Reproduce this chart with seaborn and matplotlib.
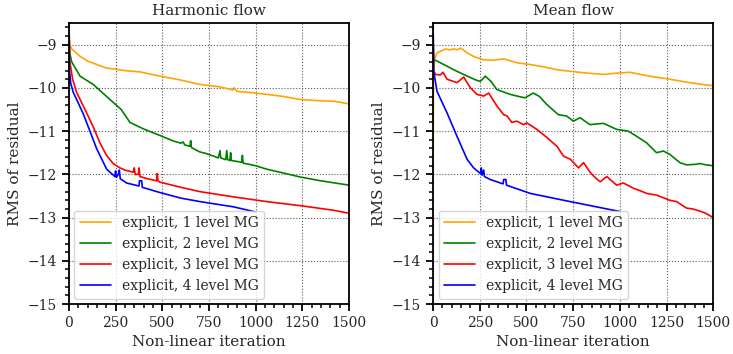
import matplotlib
matplotlib.use("Agg")
import matplotlib.pyplot as plt
from matplotlib.ticker import MultipleLocator
import seaborn as sns
import pandas as pd

# ------------------------------------------------------------
# Data
# ------------------------------------------------------------

LABELS = ["explicit, 1 level MG", "explicit, 2 level MG",
          "explicit, 3 level MG", "explicit, 4 level MG"]
COLORS = ["orange", "green", "red", "blue"]

# Harmonic flow
harm_1_x = [0, 5, 15, 60, 100, 200, 300, 380, 490, 600, 700, 800, 880, 884, 900,
            1000, 1060, 1150, 1240, 1350, 1420, 1500]
harm_1_y = [-8.65, -9.0, -9.1, -9.27, -9.38, -9.54, -9.6, -9.63, -9.73, -9.82, -9.92,
            -9.97, -10.05, -10.0, -10.08, -10.12, -10.15, -10.2, -10.27, -10.3, -10.31, -10.37]

harm_2_x = [0, 5, 15, 60, 130, 220, 280, 327, 400, 487, 560, 600, 612, 620, 648, 652,
            656, 700, 737, 800, 809, 813, 840, 845, 850, 862, 866, 870, 925, 929, 933,
            1000, 1059, 1150, 1237, 1350, 1500]
harm_2_y = [-8.65, -9.2, -9.4, -9.73, -9.92, -10.27, -10.5, -10.8, -10.95, -11.1, -11.23,
            -11.28, -11.25, -11.32, -11.35, -11.22, -11.38, -11.48, -11.52, -11.62, -11.45,
            -11.62, -11.66, -11.45, -11.66, -11.68, -11.5, -11.68, -11.72, -11.56, -11.74,
            -11.8, -11.88, -11.97, -12.06, -12.15, -12.25]

harm_3_x = [0, 5, 20, 41, 95, 130, 166, 200, 237, 273, 300, 345, 350, 355, 372, 376,
            380, 420, 470, 473, 477, 487, 600, 702, 880, 1059, 1250, 1416, 1500]
harm_3_y = [-8.65, -9.4, -9.8, -10.1, -10.58, -10.9, -11.27, -11.55, -11.75, -11.85, -11.9,
            -11.95, -11.85, -12.0, -12.0, -11.85, -12.05, -12.1, -12.15, -11.98, -12.15,
            -12.18, -12.3, -12.4, -12.52, -12.63, -12.73, -12.83, -12.9]

harm_4_x = [0, 3, 10, 23, 77, 148, 202, 246, 250, 254, 265, 270, 275, 309, 375, 378,
            390, 393, 487, 600, 702, 880, 1000]
harm_4_y = [-8.6, -9.6, -9.9, -10.1, -10.6, -11.4, -11.88, -12.05, -11.92, -12.07, -12.0,
            -11.9, -12.1, -12.2, -12.27, -12.15, -12.15, -12.3, -12.42, -12.55, -12.63,
            -12.75, -12.87]

# Mean flow
mean_1_x = [0, 2, 8, 21, 66, 90, 110, 128, 150, 182, 220, 271, 320, 378, 450, 520, 600,
            663, 740, 805, 912, 980, 1055, 1100, 1161, 1268, 1320, 1375, 1440, 1500]
mean_1_y = [-12.4, -9.6, -9.35, -9.19, -9.1, -9.12, -9.1, -9.12, -9.08, -9.19, -9.28,
            -9.35, -9.36, -9.33, -9.42, -9.46, -9.52, -9.58, -9.62, -9.65, -9.69, -9.66,
            -9.64, -9.68, -9.73, -9.8, -9.84, -9.88, -9.92, -9.95]

mean_2_x = [0, 3, 21, 75, 110, 164, 230, 253, 280, 310, 342, 413, 460, 492, 537, 570,
            608, 671, 715, 751, 787, 840, 912, 983, 1045, 1090, 1143, 1197, 1233, 1268,
            1322, 1357, 1400, 1429, 1460, 1500]
mean_2_y = [-8.6, -9.35, -9.38, -9.5, -9.58, -9.69, -9.82, -9.85, -9.73, -9.85, -10.04,
            -10.15, -10.2, -10.23, -10.12, -10.2, -10.38, -10.62, -10.65, -10.77, -10.69,
            -10.85, -10.82, -10.96, -11.0, -11.12, -11.27, -11.5, -11.46, -11.54, -11.73,
            -11.78, -11.77, -11.75, -11.78, -11.8]

mean_3_x = [0, 3, 12, 39, 53, 75, 128, 164, 200, 235, 271, 298, 342, 378, 396, 422, 449,
            484, 502, 556, 610, 663, 699, 735, 779, 806, 842, 877, 895, 930, 983, 1019,
            1072, 1110, 1143, 1197, 1268, 1304, 1357, 1390, 1429, 1460, 1500]
mean_3_y = [-8.6, -9.6, -9.69, -9.7, -9.64, -9.8, -9.88, -9.75, -10.0, -10.15, -10.19,
            -10.12, -10.42, -10.62, -10.65, -10.8, -10.77, -10.85, -10.81, -10.96, -11.15,
            -11.35, -11.58, -11.65, -11.85, -11.73, -11.96, -12.11, -12.17, -12.05, -12.25,
            -12.2, -12.32, -12.38, -12.44, -12.48, -12.6, -12.63, -12.78, -12.8, -12.85,
            -12.9, -13.0]

mean_4_x = [0, 3, 21, 75, 128, 182, 217, 253, 258, 262, 271, 275, 306, 375, 378, 390,
            393, 520, 734, 1001]
mean_4_y = [-8.6, -9.6, -10.08, -10.58, -11.12, -11.65, -11.85, -11.98, -11.85, -12.02,
            -11.9, -12.05, -12.12, -12.22, -12.12, -12.12, -12.25, -12.44, -12.63, -12.86]

PANELS = [
    ("Harmonic flow", [(harm_1_x, harm_1_y), (harm_2_x, harm_2_y),
                       (harm_3_x, harm_3_y), (harm_4_x, harm_4_y)]),
    ("Mean flow", [(mean_1_x, mean_1_y), (mean_2_x, mean_2_y),
                   (mean_3_x, mean_3_y), (mean_4_x, mean_4_y)]),
]

# ------------------------------------------------------------
# Style
# ------------------------------------------------------------

sns.set_style("ticks")
plt.rcParams["font.family"] = ["DejaVu Serif"]
plt.rcParams["font.size"] = 10

fig, axes = plt.subplots(1, 2, figsize=(7.33, 3.54), dpi=100)
fig.subplots_adjust(left=0.094, right=0.973, bottom=0.141, top=0.935, wspace=0.3)

for ax, (title, series) in zip(axes, PANELS):
    rows = []
    for label, (xs, ys) in zip(LABELS, series):
        for xv, yv in zip(xs, ys):
            rows.append({"iter": xv, "rms": yv, "scheme": label})
    df = pd.DataFrame(rows)

    sns.lineplot(data=df, x="iter", y="rms", hue="scheme", hue_order=LABELS,
                 palette=COLORS, linewidth=1.2, sort=False, estimator=None,
                 ax=ax)

    ax.set_xlim(0, 1500)
    ax.set_ylim(-15, -8.5)
    ax.xaxis.set_major_locator(MultipleLocator(250))
    ax.xaxis.set_minor_locator(MultipleLocator(50))
    ax.yaxis.set_major_locator(MultipleLocator(1))
    ax.yaxis.set_minor_locator(MultipleLocator(0.2))
    ax.tick_params(which="major", length=5, width=1.3, labelsize=10, color="black")
    ax.tick_params(which="minor", length=3, width=1.1, color="black")
    ax.grid(True, which="major", linestyle=":", color="0.35", linewidth=0.8)
    for sp in ax.spines.values():
        sp.set_linewidth(1.3)
        sp.set_color("black")

    ax.set_title(title, fontsize=11)
    ax.set_xlabel("Non-linear iteration", fontsize=11)
    ax.set_ylabel("RMS of residual", fontsize=11)
    ax.legend(loc="lower left", fontsize=10, frameon=True, framealpha=0.8,
              borderaxespad=0.4, handlelength=2.2)

fig.savefig("out.png", dpi=100)
